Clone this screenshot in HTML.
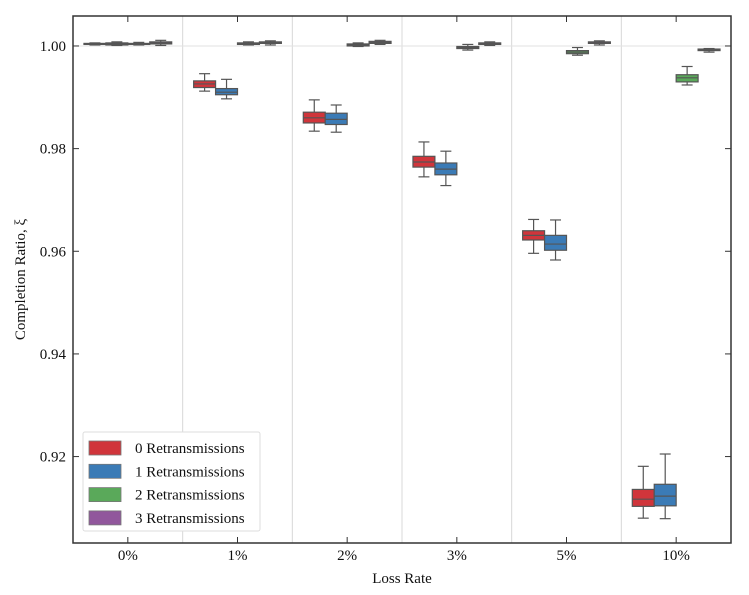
<!DOCTYPE html>
<html><head><meta charset="utf-8"><style>
body{margin:0;background:#fff;}
svg{display:block;font-family:"Liberation Serif",serif;}
</style></head><body>
<svg id="chart" width="749" height="595" xmlns="http://www.w3.org/2000/svg"></svg>
<script>
const categories = ["0%","1%","2%","3%","5%","10%"];
const seriesNames = ["0 Retransmissions","1 Retransmissions","2 Retransmissions","3 Retransmissions"];
const colors = ["#d0353b","#3b7bb6","#5aa95a","#91579c"];
const yTicks = [0.92,0.94,0.96,0.98,1.00];
const yTickLabels = ["0.92","0.94","0.96","0.98","1.00"];
// [whiskerLow, q1, median, q3, whiskerHigh] per category
const s0 = [[1.0002,1.0003,1.0004,1.0005,1.0006],[0.9912,0.9919,0.9926,0.9932,0.9946],[0.9834,0.9850,0.9860,0.9871,0.9895],[0.9745,0.9764,0.9774,0.9785,0.9813],[0.9596,0.9622,0.9631,0.9640,0.9662],[0.9080,0.9103,0.9117,0.9136,0.9181]];
const s1 = [[1.0001,1.0002,1.0004,1.0006,1.0008],[0.9897,0.9905,0.9910,0.9917,0.9935],[0.9832,0.9847,0.9857,0.9869,0.9885],[0.9728,0.9749,0.9760,0.9772,0.9795],[0.9583,0.9602,0.9614,0.9631,0.9661],[0.9079,0.9104,0.9123,0.9146,0.9205]];
const s2 = [[1.0002,1.0003,1.0004,1.0005,1.0007],[1.0002,1.0003,1.0005,1.0006,1.0008],[0.9999,1.0000,1.0002,1.0004,1.0006],[0.9992,0.9995,0.9997,0.9999,1.0003],[0.9982,0.9985,0.9988,0.9991,0.9997],[0.9924,0.9930,0.9938,0.9944,0.9960]];
const s3 = [[1.0001,1.0004,1.0006,1.0008,1.0011],[1.0002,1.0005,1.0007,1.0008,1.0010],[1.0003,1.0005,1.0007,1.0009,1.0011],[1.0001,1.0003,1.0004,1.0006,1.0008],[1.0002,1.0005,1.0006,1.0008,1.0010],[0.9988,0.9991,0.9992,0.9994,0.9995]];
const series = [s0,s1,s2,s3];

const NS="http://www.w3.org/2000/svg";
const svg=document.getElementById('chart');
const L=73,R=731,T=16,B=543;
const yMin=0.90316,yMax=1.00584;
const y=v=>B-(v-yMin)/(yMax-yMin)*(B-T);
const gw=(R-L)/categories.length;
const xc=i=>L+gw*(i+0.5);
const slot=gw*0.8/4;
function el(tag,attrs,parent){const e=document.createElementNS(NS,tag);for(const k in attrs)e.setAttribute(k,attrs[k]);(parent||svg).appendChild(e);return e;}

for(let i=1;i<categories.length;i++){
  const g=el('line',{x1:L+gw*i,x2:L+gw*i,y1:T,y2:B,stroke:'#d8d8d8','stroke-width':1});
  
  
}
const gl=el('line',{x1:L,x2:R,y1:y(1.0),y2:y(1.0),stroke:'#e2e2e2','stroke-width':1});



series.forEach((s,si)=>{
  s.forEach((d,ci)=>{
    if(!d)return;
    const g=el('g',{});
    
    
    const x0=xc(ci)-2*slot+si*slot, x1=x0+slot, xm=(x0+x1)/2, cap=slot/4;
    const st={stroke:'#555','stroke-width':1.2};
    el('line',Object.assign({x1:xm,x2:xm,y1:y(d[4]),y2:y(d[3])},st),g);
    el('line',Object.assign({x1:xm,x2:xm,y1:y(d[1]),y2:y(d[0])},st),g);
    el('line',Object.assign({x1:xm-cap,x2:xm+cap,y1:y(d[4]),y2:y(d[4])},st),g);
    el('line',Object.assign({x1:xm-cap,x2:xm+cap,y1:y(d[0]),y2:y(d[0])},st),g);
    el('rect',{x:x0,y:y(d[3]),width:slot,height:Math.max(1,y(d[1])-y(d[3])),fill:colors[si],stroke:'#555','stroke-width':1.2},g);
    el('line',Object.assign({x1:x0,x2:x1,y1:y(d[2]),y2:y(d[2])},st),g);
  });
});

const fr=el('rect',{x:L,y:T,width:R-L,height:B-T,fill:'none',stroke:'#333','stroke-width':1.5});



yTicks.forEach((v,i)=>{
  el('line',{x1:L,x2:L+6,y1:y(v),y2:y(v),stroke:'#333'});
  el('line',{x1:R-6,x2:R,y1:y(v),y2:y(v),stroke:'#333'});
  const t=el('text',{x:L-7,y:y(v)+5,'text-anchor':'end','font-size':15,fill:'#111'});
  t.textContent=yTickLabels[i];
  
  
});
categories.forEach((c,i)=>{
  el('line',{x1:xc(i),x2:xc(i),y1:B,y2:B-6,stroke:'#333'});
  el('line',{x1:xc(i),x2:xc(i),y1:T,y2:T+6,stroke:'#333'});
  const t=el('text',{x:xc(i),y:B+17,'text-anchor':'middle','font-size':15,fill:'#111'});
  t.textContent=c;
  
  
});
const xt=el('text',{x:(L+R)/2,y:583,'text-anchor':'middle','font-size':15,fill:'#111'});
xt.textContent='Loss Rate';


const yt=el('text',{x:0,y:0,'text-anchor':'middle','font-size':15,fill:'#111',transform:'translate(25,'+((T+B)/2)+') rotate(-90)'});
yt.textContent='Completion Ratio, ξ';



const lg=el('g',{});


el('rect',{x:83,y:432,width:177,height:99,fill:'#fff',stroke:'#ddd',rx:2},lg);
seriesNames.forEach((n,i)=>{
  const e=el('g',{},lg);
  
  
  const yy=448+i*23.3;
  el('rect',{x:89,y:yy-7,width:32,height:14,fill:colors[i],stroke:'#777','stroke-width':0.8},e);
  const t=el('text',{x:135,y:yy+5,'font-size':15,fill:'#111'},e);
  t.textContent=n;
});
</script>
</body></html>
